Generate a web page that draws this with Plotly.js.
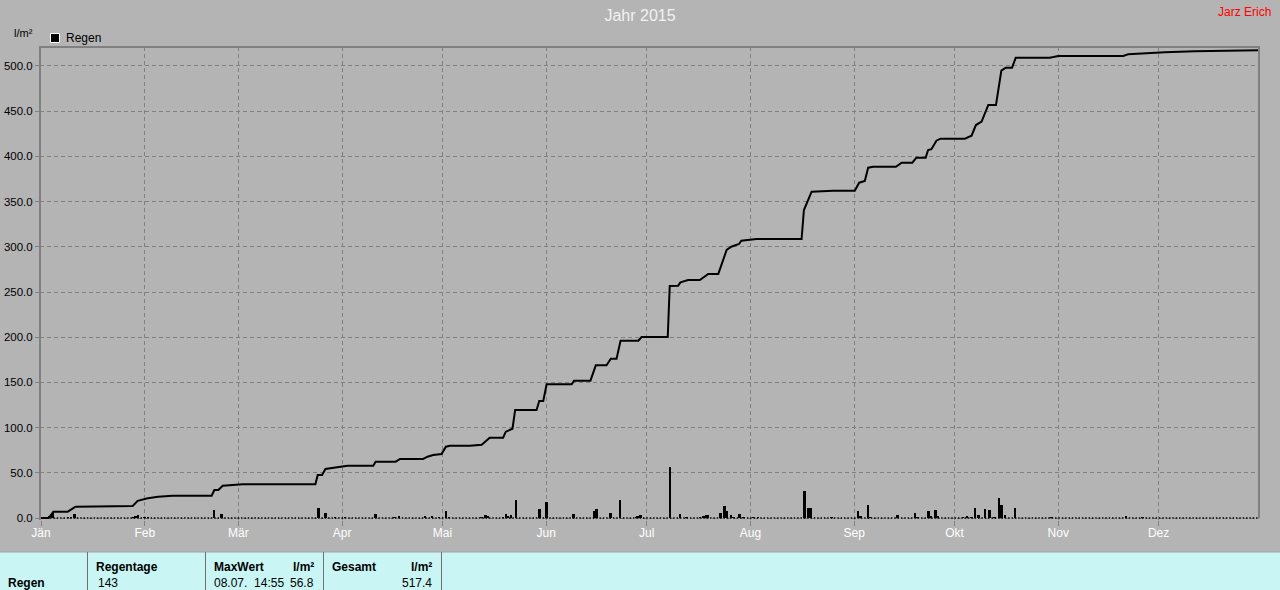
<!DOCTYPE html>
<html><head><meta charset="utf-8">
<script src="https://cdn.plot.ly/plotly-3.0.1.min.js"></script>
<style>html,body{margin:0;padding:0;background:#b4b4b4;overflow:hidden}#chart{width:1280px;height:590px}</style>
</head><body><div id="chart"></div>
<script>
// ---- data ----
const chartTitle = 'Jahr 2015';
const author = 'Jarz Erich';
const unitLabel = 'l/m²';
const seriesName = 'Regen';
const monthStarts = ['2015-01-01','2015-02-01','2015-03-01','2015-04-01','2015-05-01','2015-06-01','2015-07-01','2015-08-01','2015-09-01','2015-10-01','2015-11-01','2015-12-01'];
const monthLabels = ['Jän','Feb','Mär','Apr','Mai','Jun','Jul','Aug','Sep','Okt','Nov','Dez'];
const yTicks = [0,50,100,150,200,250,300,350,400,450,500];
// cumulative rain (day of year from Jan 1 00:00, l/m²)
const lineDays = [0,2.3,3.7,8,10.3,15,15.5,27.4,28.9,31.9,35,39.3,51,51.8,53,54.3,60.3,82,82.7,84,85,88.6,91.6,99.3,100,106,107.3,114.2,115.5,117.2,119.7,121,122.2,128.2,131.7,134.1,138.1,138.9,140.9,141.7,148.1,148.9,150.1,151.1,158.6,159.3,164.2,165.8,169,170.3,172,173.2,178.5,179.5,187.3,187.9,190.4,191.1,193.4,196.9,199.4,202.4,204.9,206.3,208.6,209.3,213.8,227.3,228,230.3,236.7,243.2,244.5,246.2,247.2,248.7,255.5,257.2,260.4,261.6,264.4,265.1,266.1,267.6,268.8,276.1,278.1,279.4,281.1,283.1,285.4,287,288.3,290.2,291.3,301.5,304,323.4,324.9,330.4,335.8,344.8,364];
const lineTotals = [0,0,7,7,12.5,12.5,13.3,13.3,19,21.8,23.6,24.7,24.7,31,31,35.7,37.3,37.3,47.6,47.6,54.2,56,57.9,57.9,62.3,62.3,65.3,65.3,67.8,69.7,70.8,78.9,80,80,81.1,88.8,88.8,95.5,98.8,119.5,119.5,129.4,129.4,147.9,147.9,151.9,151.9,168.9,168.9,176.2,176.2,196.1,196.1,200.2,200.2,256.6,257,260.7,263.3,263.3,269.9,269.9,296.5,300.1,303.1,306.7,308.6,308.6,340.7,361,362,362,370.9,372.8,387.5,388.6,388.6,393,393,398.6,398.6,407.1,408,417.4,419.6,419.6,422.9,434.7,438.4,456.9,456.9,494.8,498.1,498.1,509.2,509.2,511.1,511.1,512.9,514,515.2,516.3,517.4];
// daily rain bars
const barDays = [2.4,3.4,8,9,10,27.6,28.3,29,31,32,36,51.7,53.9,83,85,87.8,90.8,99.9,105.6,107,114.8,116.8,119,121,122,131.7,132.9,133.6,138.1,138.9,139.6,140.4,141.9,148.9,151,159.1,165.3,166,170.2,173.1,177.8,178.3,179.1,188,191,192.9,197,198,198.7,199.3,203,204.2,205,206.2,207,208.8,210,212.8,214.3,228.1,229.3,230,236.2,244.1,244.9,247.1,247.8,256,261.2,261.9,265.2,265.9,267.3,268.1,275.6,276.8,278.1,279.1,280.1,282.1,283.4,284.9,286.3,287.1,288.1,291.1,302,324.3,329.2];
const barValues = [2.5,5.0,0.6,0.8,4.8,1.5,2.5,3.0,0.8,0.6,0.5,8.5,4.8,11.4,5.9,0.6,0.6,4.8,1.0,2.6,2.6,2.6,1.0,7.7,0.8,1.0,3.7,2.2,1.0,4.8,2.6,3.7,19.9,10.0,17.7,4.8,7.7,10.0,5.9,19.9,1.0,1.8,3.7,56.8,4.8,1.5,1.0,1.8,3.0,3.7,5.9,13.3,7.7,3.7,1.0,4.8,1.0,0.8,0.8,29.9,11.1,11.1,0.8,7.7,2.2,14.7,1.0,3.7,5.9,1.5,7.7,2.2,8.8,2.2,1.0,2.2,1.0,11.1,3.7,10.0,8.8,1.5,22.1,14.7,3.7,11.1,1.0,2.6,1.0];
// summary table
const tableHeaders = ['Regentage','MaxWert','l/m²','Gesamt','l/m²'];
const tableRowLabel = 'Regen';
const rainDays = '143';
const maxWhen = '08.07.  14:55';
const maxValue = '56.8';
const totalValue = '517.4';

// ---- helpers ----
const DAY = 86400000;
const t0 = Date.UTC(2015,0,1);
const toDate = d => new Date(t0 + d*DAY).toISOString().replace('T',' ').slice(0,19);
const PL=40, PR=1259, PT=47, PB=520;
const px = x => (x-PL)/(PR-PL);
const py = y => (PB-y)/(PB-PT);
const FONT = 'Liberation Sans, Arial, sans-serif';

const traces = [
  {type:'bar', x: barDays.map(toDate), y: barValues, width: 0.75*DAY,
   marker:{color:'#000000', line:{width:0}}, name: seriesName, showlegend:false, hoverinfo:'x+y'},
  {type:'scatter', mode:'lines', x: lineDays.map(toDate), y: lineTotals,
   line:{color:'#000000', width:2}, name: seriesName, showlegend:false}
];

function ann(text, x, y, o) {
  return Object.assign({text, xref:'paper', yref:'paper', x: px(x), y: py(y), showarrow:false,
    xanchor:'left', yanchor:'middle', font:{family:FONT, size:12, color:'#000'}}, o||{});
}
const bold = s => '<b>' + s + '</b>';

const shapes = [
  // zero-day dotted baseline
  {type:'line', xref:'paper', yref:'y', x0:0, x1:px(1258), y0:0, y1:0, line:{color:'#000', width:1.5, dash:'1.5px,1.85px'}, layer:'above'},
  // frame
  {type:'line', xref:'paper', yref:'paper', x0:px(40), x1:px(40), y0:py(47), y1:py(520), line:{color:'#808080', width:2}},
  {type:'line', xref:'paper', yref:'paper', x0:px(39), x1:px(1260), y0:py(47), y1:py(47), line:{color:'#808080', width:2}},
  {type:'line', xref:'paper', yref:'paper', x0:px(1259), x1:px(1259), y0:py(47), y1:py(518), line:{color:'#808080', width:2}},
  // legend symbol
  {type:'rect', xref:'paper', yref:'paper', x0:px(50.5), x1:px(59.5), y0:py(42.5), y1:py(33.5), fillcolor:'#000', line:{color:'#fff', width:1}},
  // table
  {type:'rect', xref:'paper', yref:'paper', x0:px(0), x1:px(1280), y0:py(552), y1:py(591), fillcolor:'#c9f6f4', line:{width:0}},
  {type:'line', xref:'paper', yref:'paper', x0:px(0), x1:px(1280), y0:py(552), y1:py(552), line:{color:'#a0a0a0', width:1}},
  {type:'line', xref:'paper', yref:'paper', x0:px(87.5), x1:px(87.5), y0:py(552), y1:py(591), line:{color:'#707070', width:1}},
  {type:'line', xref:'paper', yref:'paper', x0:px(205.5), x1:px(205.5), y0:py(552), y1:py(591), line:{color:'#707070', width:1}},
  {type:'line', xref:'paper', yref:'paper', x0:px(323.5), x1:px(323.5), y0:py(552), y1:py(591), line:{color:'#707070', width:1}},
  {type:'line', xref:'paper', yref:'paper', x0:px(441.5), x1:px(441.5), y0:py(552), y1:py(591), line:{color:'#707070', width:1}}
];

const annotations = [
  ann(unitLabel, 12, 33, {font:{family:FONT, size:11, color:'#000'}}),
  ann(seriesName, 64, 38, {font:{family:FONT, size:12, color:'#000'}}),
  ann(author, 1273, 12, {xanchor:'right', font:{family:FONT, size:12, color:'#ff0000'}}),
  ann(bold(tableHeaders[0]), 94, 567),
  ann(bold(tableHeaders[1]), 212, 567),
  ann(bold(tableHeaders[2]), 316, 567, {xanchor:'right'}),
  ann(bold(tableHeaders[3]), 330, 567),
  ann(bold(tableHeaders[4]), 434, 567, {xanchor:'right'}),
  ann(bold(tableRowLabel), 6, 583),
  ann(rainDays, 96, 583),
  ann(maxWhen, 212, 583),
  ann(maxValue, 316, 583, {xanchor:'right'}),
  ann(totalValue, 434, 583, {xanchor:'right'})
];

const layout = {
  width:1280, height:590,
  margin:{l:40, r:21, t:47, b:70, pad:0},
  paper_bgcolor:'#b4b4b4', plot_bgcolor:'#b4b4b4',
  font:{family:FONT, size:12, color:'#000'},
  title:{text: chartTitle, x:0.5, xref:'container', xanchor:'center', y:1-15/590, yref:'container', yanchor:'middle',
         font:{family:FONT, size:16, color:'#f2f2f2'}},
  showlegend:false,
  bargap:0,
  xaxis:{type:'date', range:[toDate(-0.3), toDate(364)], tickmode:'array', tickvals: monthStarts, ticktext: monthLabels,
         showgrid:true, gridcolor:'#808080', gridwidth:1, griddash:'4px,3px', zeroline:false, showline:false,
         ticks:'outside', ticklen:5, tickcolor:'#808080', ticklabelstandoff:-3, tickfont:{family:FONT, size:12, color:'#ffffff'}, fixedrange:true},
  yaxis:{range:[-2.2, 521], tickmode:'array', tickvals: yTicks, tickformat:'.1f',
         showgrid:true, gridcolor:'#808080', gridwidth:1, griddash:'4px,3px', zeroline:false, showline:false,
         ticks:'outside', ticklen:4, tickcolor:'#808080', tickfont:{family:FONT, size:11.5, color:'#000'}, fixedrange:true},
  shapes, annotations
};

Plotly.newPlot('chart', traces, layout, {displayModeBar:false, staticPlot:true});
</script>
</body></html>
